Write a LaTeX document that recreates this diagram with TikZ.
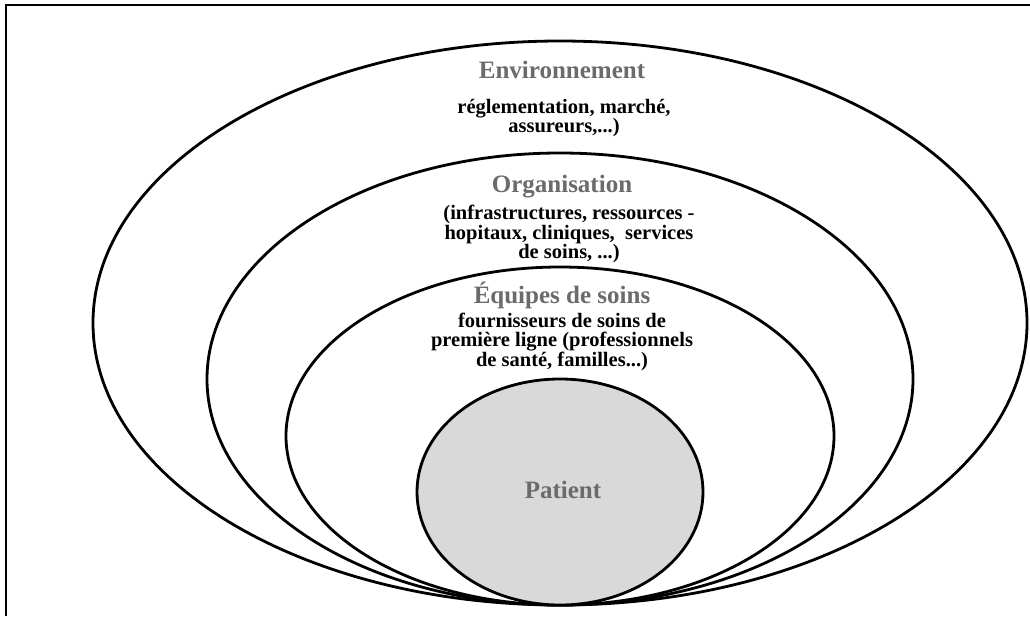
\documentclass[tikz,border=0pt]{standalone}
\usepackage{fontspec}
\setmainfont{Liberation Serif}
\definecolor{titlegray}{HTML}{6B6B6B}
\definecolor{patientfill}{HTML}{D9D9D9}
\begin{document}
\begin{tikzpicture}[x=1pt,y=-1pt,
  ring/.style={draw=black,line width=2.8pt},
  frame/.style={draw=black,line width=2.5pt},
  title/.style={font=\fontsize{25}{25}\selectfont\bfseries,text=titlegray,inner sep=0pt,anchor=base},
  body/.style={font=\fontsize{20.5}{17.5}\selectfont\bfseries,align=center,inner sep=0pt,anchor=north}]
\useasboundingbox (0,0) rectangle (1030,616);
% open frame: left and top edges
\draw[frame] (6,616) -- (6,5) -- (1030,5);
% nested levels, all touching at the bottom
\draw[ring,fill=white] (560,323) ellipse [x radius=467, y radius=282];
\draw[ring,fill=white] (560,379) ellipse [x radius=353, y radius=226];
\draw[ring,fill=white] (560,436) ellipse [x radius=274, y radius=169];
\draw[ring,fill=patientfill] (560,492) ellipse [x radius=143, y radius=113];
% labels
\node[title] (envtitle) at (562,78) {Environnement};
\node[body,font=\fontsize{20.5}{19}\selectfont\bfseries] (envtext) at (564,99) {réglementation, marché,\\assureurs,...)};
\node[title] (orgtitle) at (562,192) {Organisation};
\node[body] (orgtext) at (569,205) {(infrastructures, ressources -\\hopitaux, cliniques,~ services\\de soins, ...)};
\node[title] (eqtitle) at (562,303) {Équipes de soins};
\node[body,font=\fontsize{20.5}{18.5}\selectfont\bfseries] (eqtext) at (562,313) {fournisseurs de soins de\\première ligne (professionnels\\de santé, familles...)};
\node[title] (patient) at (563,498) {Patient};
\end{tikzpicture}
\end{document}
